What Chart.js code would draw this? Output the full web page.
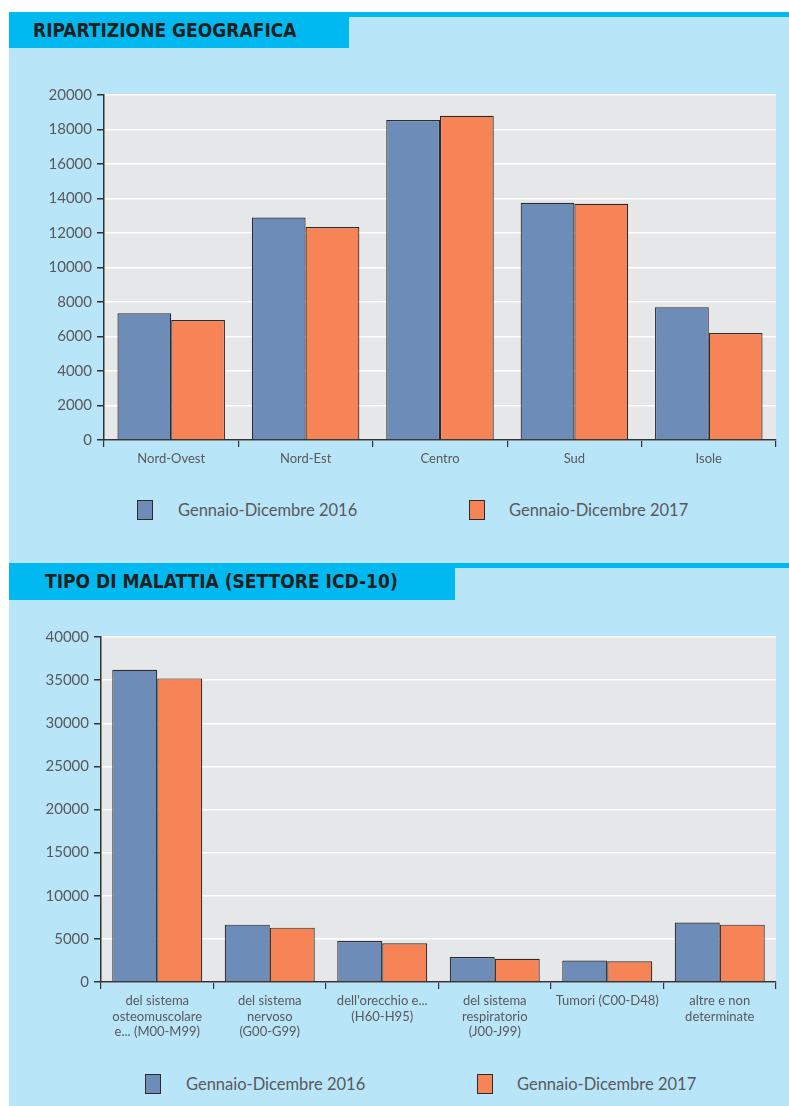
<!DOCTYPE html>
<html>
<head>
<meta charset="utf-8">
<script src="https://cdn.jsdelivr.net/npm/chart.js@4/dist/chart.umd.min.js"></script>
<style>
  html, body { margin:0; padding:0; background:#fff; }
  body { width:789px; height:1106px; position:relative; overflow:hidden; font-family:Lato, 'Open Sans', sans-serif; }
  .panel { position:absolute; left:9px; top:17px; width:780px; height:1089px; background:#b9e5f9; }
  .head { position:absolute; left:9px; background:#00b9f1; color:#231f20;
          font-family:'DejaVu Sans Condensed','DejaVu Sans',sans-serif; font-stretch:condensed;
          font-weight:bold; font-size:19px; line-height:36px; box-sizing:border-box; }
  .stripe { position:absolute; right:0; height:5px; background:#00b9f1; }
  .box { position:absolute; width:16px; height:20px; border:1.3px solid #2b2b2b; box-sizing:border-box; }
  .lbl { position:absolute; font-size:16.5px; color:#58595b; line-height:20px; }
  canvas { position:absolute; left:0; }
</style>
</head>
<body>
<div class="panel"></div>

<div class="head" style="top:12px;width:340px;height:36px;padding-left:24px">RIPARTIZIONE GEOGRAFICA</div>
<div class="stripe" style="top:12px;left:349px"></div>
<div style="position:absolute;left:0;top:80px;width:789px;height:400px"><canvas id="geoChart"></canvas></div>
<div class="box" style="left:137px;top:500px;background:#6e8cb8"></div>
<div class="lbl" style="left:178px;top:500px">Gennaio-Dicembre 2016</div>
<div class="box" style="left:469px;top:500px;background:#f68457"></div>
<div class="lbl" style="left:509px;top:500px">Gennaio-Dicembre 2017</div>

<div class="head" style="top:563px;width:446px;height:37px;padding-left:36px">TIPO DI MALATTIA (SETTORE ICD-10)</div>
<div class="stripe" style="top:563px;left:455px"></div>
<div style="position:absolute;left:0;top:620px;width:789px;height:422px"><canvas id="icdChart"></canvas></div>
<div class="box" style="left:145px;top:1074px;background:#6e8cb8"></div>
<div class="lbl" style="left:186px;top:1074px">Gennaio-Dicembre 2016</div>
<div class="box" style="left:477px;top:1074px;background:#f68457"></div>
<div class="lbl" style="left:517px;top:1074px">Gennaio-Dicembre 2017</div>

<script>
'use strict';

// ============================================================
// DATI
// ============================================================
const regioni = ['Nord-Ovest', 'Nord-Est', 'Centro', 'Sud', 'Isole'];
const regioni2016 = [7350, 12900, 18550, 13750, 7700];
const regioni2017 = [6950, 12350, 18800, 13700, 6200];

const malattie = [
  ['del sistema', 'osteomuscolare', 'e... (M00-M99)'],
  ['del sistema', 'nervoso', '(G00-G99)'],
  ["dell'orecchio e...", '(H60-H95)'],
  ['del sistema', 'respiratorio', '(J00-J99)'],
  ['Tumori (C00-D48)'],
  ['altre e non', 'determinate']
];
const malattie2016 = [36200, 6650, 4750, 2900, 2500, 6900];
const malattie2017 = [35200, 6300, 4500, 2700, 2400, 6650];

const serie = ['Gennaio-Dicembre 2016', 'Gennaio-Dicembre 2017'];
const colori = ['#6e8cb8', '#f68457'];

// ============================================================
// GRAFICI
// ============================================================
const plotBg = {
  id: 'plotBg',
  beforeDraw(chart) {
    const a = chart.chartArea, ctx = chart.ctx;
    ctx.save();
    ctx.fillStyle = '#e6e7e9';
    ctx.fillRect(a.left, a.top, a.right - a.left, a.bottom - a.top);
    ctx.restore();
  }
};

function makeChart(id, labels, d16, d17, max, step, padTop, xHeight, yWidth) {
  return new Chart(document.getElementById(id).getContext('2d'), {
    type: 'bar',
    data: {
      labels: labels,
      datasets: [d16, d17].map((d, i) => ({
        label: serie[i], data: d, backgroundColor: colori[i],
        borderColor: '#2b2b2b', borderWidth: 1.2, borderSkipped: 'start',
        categoryPercentage: 0.8, barPercentage: 1
      }))
    },
    options: {
      responsive: true, maintainAspectRatio: false, animation: false,
      layout: { padding: { left: 0, right: 13, top: padTop, bottom: 0 } },
      plugins: { legend: { display: false }, tooltip: { enabled: false } },
      scales: {
        x: {
          grid: { display: true, offset: true, drawOnChartArea: false, drawTicks: true, tickLength: 7, color: '#333', lineWidth: 1.2 },
          border: { color: '#333', width: 1.5 },
          ticks: { color: '#58595b', font: { family: 'Lato', size: 13 }, padding: 4, maxRotation: 0, autoSkip: false },
          afterFit: s => { s.height = xHeight; }
        },
        y: {
          min: 0, max: max,
          grid: { color: '#ffffff', lineWidth: 1.5, tickColor: '#333', tickLength: 7, drawTicks: true },
          border: { color: '#333', width: 1.5 },
          ticks: { stepSize: step, color: '#58595b', font: { family: 'Lato', size: 15 }, padding: 5, callback: v => String(v) },
          afterFit: s => { s.width = yWidth; }
        }
      }
    },
    plugins: [plotBg]
  });
}

makeChart('geoChart', regioni, regioni2016, regioni2017, 20000, 2000, 15, 40, 104);
makeChart('icdChart', malattie, malattie2016, malattie2017, 40000, 5000, 17, 60, 101);
</script>
</body>
</html>
